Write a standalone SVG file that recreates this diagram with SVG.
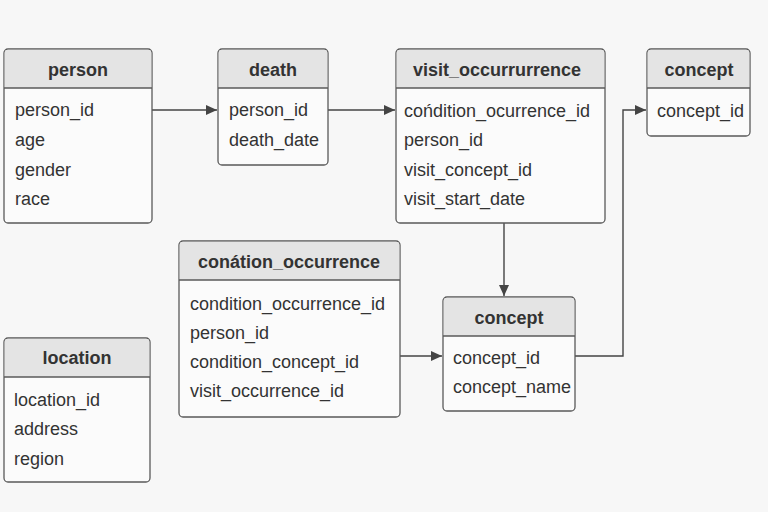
<svg xmlns="http://www.w3.org/2000/svg" width="768" height="512" viewBox="0 0 768 512">
<defs>
<style>
.bg{fill:#f7f7f7}
.box{fill:#fbfbfb;stroke:#5a5a5a;stroke-width:1.3}
.hd{fill:#e4e4e4}
.sep{stroke:#5a5a5a;stroke-width:1.3}
.t{font-family:"Liberation Sans",Arial,sans-serif;font-size:18px;fill:#333}
.h{font-family:"Liberation Sans",Arial,sans-serif;font-size:18px;font-weight:bold;fill:#333;text-anchor:middle}
.c{fill:none;stroke:#444;stroke-width:1.4}
</style>
<marker id="arr" markerWidth="12" markerHeight="10" refX="11" refY="5" orient="auto" markerUnits="userSpaceOnUse">
<path d="M0,0 L11,5 L0,10 Z" fill="#444"/>
</marker>
</defs>
<rect class="bg" width="768" height="512"/>

<g id="connectors">
<path class="c" d="M152,110 H217" marker-end="url(#arr)"/>
<path class="c" d="M328,110 H395" marker-end="url(#arr)"/>
<path class="c" d="M504,223 V296" marker-end="url(#arr)"/>
<path class="c" d="M400,356 H442" marker-end="url(#arr)"/>
<path class="c" d="M575,356 H623 V110 H646" marker-end="url(#arr)"/>
</g>

<g id="person">
<rect class="box" x="4" y="49" width="148" height="174" rx="4"/>
<path class="hd" d="M8,49.7 H148 Q151.3,49.7 151.3,53 V88 H4.7 V53 Q4.7,49.7 8,49.7 Z"/>
<line class="sep" x1="4" y1="88" x2="152" y2="88"/>
<text class="h" x="78" y="76">person</text>
<text class="t" x="15" y="116">person_id</text>
<text class="t" x="15" y="146">age</text>
<text class="t" x="15" y="176">gender</text>
<text class="t" x="15" y="205">race</text>
</g>

<g id="death">
<rect class="box" x="218" y="49" width="110" height="116" rx="4"/>
<path class="hd" d="M222,49.7 H324 Q327.3,49.7 327.3,53 V88 H218.7 V53 Q218.7,49.7 222,49.7 Z"/>
<line class="sep" x1="218" y1="88" x2="328" y2="88"/>
<text class="h" x="273" y="76">death</text>
<text class="t" x="229" y="116">person_id</text>
<text class="t" x="229" y="146">death_date</text>
</g>

<g id="visit_occurrence">
<rect class="box" x="396" y="49" width="209" height="174" rx="4"/>
<path class="hd" d="M400,49.7 H601 Q604.3,49.7 604.3,53 V88 H396.7 V53 Q396.7,49.7 400,49.7 Z"/>
<line class="sep" x1="396" y1="88" x2="605" y2="88"/>
<text class="h" x="497" y="76">visit_occurrurrence</text>
<text class="t" x="404" y="117">cońdition_ocurrence_id</text>
<text class="t" x="404" y="146">person_id</text>
<text class="t" x="404" y="176">visit_concept_id</text>
<text class="t" x="404" y="205">visit_start_date</text>
</g>

<g id="concept_top">
<rect class="box" x="647" y="49" width="103" height="87" rx="4"/>
<path class="hd" d="M651,49.7 H746 Q749.3,49.7 749.3,53 V88 H647.7 V53 Q647.7,49.7 651,49.7 Z"/>
<line class="sep" x1="647" y1="88" x2="750" y2="88"/>
<text class="h" x="699" y="76">concept</text>
<text class="t" x="657" y="117">concept_id</text>
</g>

<g id="condition_occurrence">
<rect class="box" x="179" y="241" width="221" height="176" rx="4"/>
<path class="hd" d="M183,241.7 H396 Q399.3,241.7 399.3,245 V280 H179.7 V245 Q179.7,241.7 183,241.7 Z"/>
<line class="sep" x1="179" y1="280" x2="400" y2="280"/>
<text class="h" x="289" y="268">conátion_occurrence</text>
<text class="t" x="190" y="310">condition_occurrence_id</text>
<text class="t" x="190" y="339">person_id</text>
<text class="t" x="190" y="368">condition_concept_id</text>
<text class="t" x="190" y="397">visit_occurrence_id</text>
</g>

<g id="concept_mid">
<rect class="box" x="443" y="297" width="132" height="114" rx="4"/>
<path class="hd" d="M447,297.7 H571 Q574.3,297.7 574.3,301 V336 H443.7 V301 Q443.7,297.7 447,297.7 Z"/>
<line class="sep" x1="443" y1="336" x2="575" y2="336"/>
<text class="h" x="509" y="324">concept</text>
<text class="t" x="453" y="364">concept_id</text>
<text class="t" x="453" y="393">concept_name</text>
</g>

<g id="location">
<rect class="box" x="4" y="338" width="146" height="144" rx="4"/>
<path class="hd" d="M8,338.7 H146 Q149.3,338.7 149.3,342 V377 H4.7 V342 Q4.7,338.7 8,338.7 Z"/>
<line class="sep" x1="4" y1="377" x2="150" y2="377"/>
<text class="h" x="77" y="364">location</text>
<text class="t" x="14" y="406">location_id</text>
<text class="t" x="14" y="435">address</text>
<text class="t" x="14" y="465">region</text>
</g>
</svg>
